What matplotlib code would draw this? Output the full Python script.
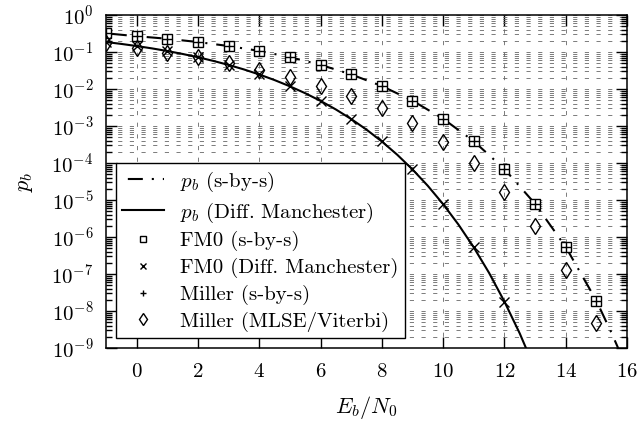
import matplotlib
matplotlib.use("Agg")
import matplotlib.pyplot as plt
from matplotlib.ticker import LogLocator, NullFormatter

plt.rcParams['font.family'] = 'serif'
plt.rcParams['font.serif'] = ['cmr10', 'DejaVu Serif']
plt.rcParams['mathtext.fontset'] = 'cm'
plt.rcParams['axes.formatter.use_mathtext'] = True
plt.rcParams['axes.unicode_minus'] = False

# ---- data ----
ebn0_int = [-1, 0, 1, 2, 3, 4, 5, 6, 7, 8, 9, 10, 11, 12, 13, 14, 15]
# FM0 (s-by-s) and Miller (s-by-s): same points
pb_sbys_pts = [0.32, 0.267, 0.228, 0.186, 0.145, 0.107, 0.0726, 0.045, 0.0248,
               0.0120, 0.00484, 1.57e-3, 3.88e-4, 6.87e-5, 7.9e-6, 5.4e-7, 1.9e-8]
# Miller (MLSE/Viterbi)
miller_mlse = [0.174, 0.126, 0.095, 0.072, 0.051, 0.032, 0.0214, 0.012, 0.0063,
               0.0030, 0.00117, 3.7e-4, 1.0e-4, 1.66e-5, 2.0e-6, 1.3e-7, 4.8e-9]
# FM0 (Diff. Manchester) markers
ebn0_dm = [-1, 0, 1, 2, 3, 4, 5, 6, 7, 8, 9, 10, 11, 12]
fm0_dm = [0.186, 0.145, 0.106, 0.0722, 0.0447, 0.0247, 0.0118, 0.00477, 1.54e-3,
          3.82e-4, 6.72e-5, 7.74e-6, 5.24e-7, 1.8e-8]

# theoretical p_b (s-by-s) curve
curve_sbys_x = [-1, 0, 1, 2, 3, 4, 5, 6, 7, 8, 9, 10, 11, 12, 13, 14, 15, 15.5, 16]
curve_sbys_y = [0.32, 0.267, 0.228, 0.186, 0.145, 0.107, 0.0726, 0.045, 0.0248,
                0.0120, 0.00484, 1.57e-3, 3.88e-4, 6.87e-5, 7.9e-6, 5.4e-7, 1.9e-8,
                2.5e-9, 2.8e-10]
# theoretical p_b (Diff. Manchester) curve
curve_dm_x = [-1, -0.5, 0, 0.5, 1, 1.5, 2, 2.5, 3, 3.5, 4, 4.5, 5, 5.5, 6, 6.5, 7,
              7.5, 8, 8.5, 9, 9.5, 10, 10.5, 11, 11.5, 12, 12.5, 13]
curve_dm_y = [0.1861, 0.1653, 0.1449, 0.1252, 0.1063, 0.0885, 0.0722, 0.0575,
              0.0447, 0.0338, 0.0247, 0.01743, 0.01183, 0.00769, 0.00477, 0.0028,
              1.544e-3, 7.98e-4, 3.82e-4, 1.68e-4, 6.72e-5, 2.42e-5, 7.74e-6,
              2.17e-6, 5.24e-7, 1.07e-7, 1.8e-8, 2.48e-9, 2.66e-10]

labels = [r'$p_b$ (s-by-s)', r'$p_b$ (Diff. Manchester)', 'FM0 (s-by-s)',
          'FM0 (Diff. Manchester)', 'Miller (s-by-s)', 'Miller (MLSE/Viterbi)']
xticks = [0, 2, 4, 6, 8, 10, 12, 14, 16]

fig = plt.figure(figsize=(6.39, 4.22), dpi=100)
ax = fig.add_axes([106/639, 1-348/422, (627-106)/639, (348-15)/422])

ax.set_yscale('log')
ax.set_xlim(-1, 16)
ax.set_ylim(1e-9, 1)

l1, = ax.plot(curve_sbys_x, curve_sbys_y, color='black', lw=1.5,
              linestyle=(14.0, (7.2, 4.3, 1.0, 4.3)), label=labels[0], zorder=3)
l2, = ax.plot(curve_dm_x, curve_dm_y, color='black', lw=1.5, label=labels[1], zorder=3)
m1, = ax.plot(ebn0_int, pb_sbys_pts, ls='none', marker='s', ms=7, mfc='white',
              mec='black', mew=1.0, label=labels[2], zorder=4)
m2, = ax.plot(ebn0_dm, fm0_dm, ls='none', marker='x', ms=7, mec='black',
              mew=1.0, label=labels[3], zorder=4)
m3, = ax.plot(ebn0_int, pb_sbys_pts, ls='none', marker='+', ms=7, mec='black',
              mew=1.0, label=labels[4], zorder=5)
m4, = ax.plot(ebn0_int, miller_mlse, ls='none', marker='d', ms=8.5, mfc='none',
              mec='black', mew=1.0, label=labels[5], zorder=4)

ax.set_xticks(xticks)
ax.yaxis.set_major_locator(LogLocator(base=10, numticks=20))
ax.yaxis.set_minor_locator(LogLocator(base=10, subs=range(2, 10), numticks=20))
ax.yaxis.set_minor_formatter(NullFormatter())

gstyle = dict(color='0.4', lw=0.6, dashes=(5, 9))
ax.grid(True, which='major', axis='both', **gstyle)
ax.grid(True, which='minor', axis='y', **gstyle)
ax.set_axisbelow(True)

ax.tick_params(which='both', direction='in', top=True, right=True,
               labelsize=15, width=1.0, colors='black')
ax.tick_params(which='major', length=8, pad=9)
ax.tick_params(axis='x', which='major', pad=11)
ax.tick_params(which='minor', length=4.5)
for s in ax.spines.values():
    s.set_linewidth(1.1)

ax.set_xlabel(r'$E_b/N_0$', fontsize=16, labelpad=9)
ax.set_ylabel(r'$p_b$', fontsize=16, labelpad=12)

leg = ax.legend(handles=[l1, l2, m1, m2, m3, m4], loc='lower left',
                bbox_to_anchor=(0.019, 0.03), borderaxespad=0, fontsize=15,
                fancybox=False, framealpha=1, edgecolor='black',
                handlelength=2.0, handletextpad=0.8, labelspacing=0.32,
                markerscale=0.7, borderpad=0.3)
leg.get_frame().set_linewidth(1.0)
leg.set_zorder(10)

fig.savefig('out.png', dpi=100)
